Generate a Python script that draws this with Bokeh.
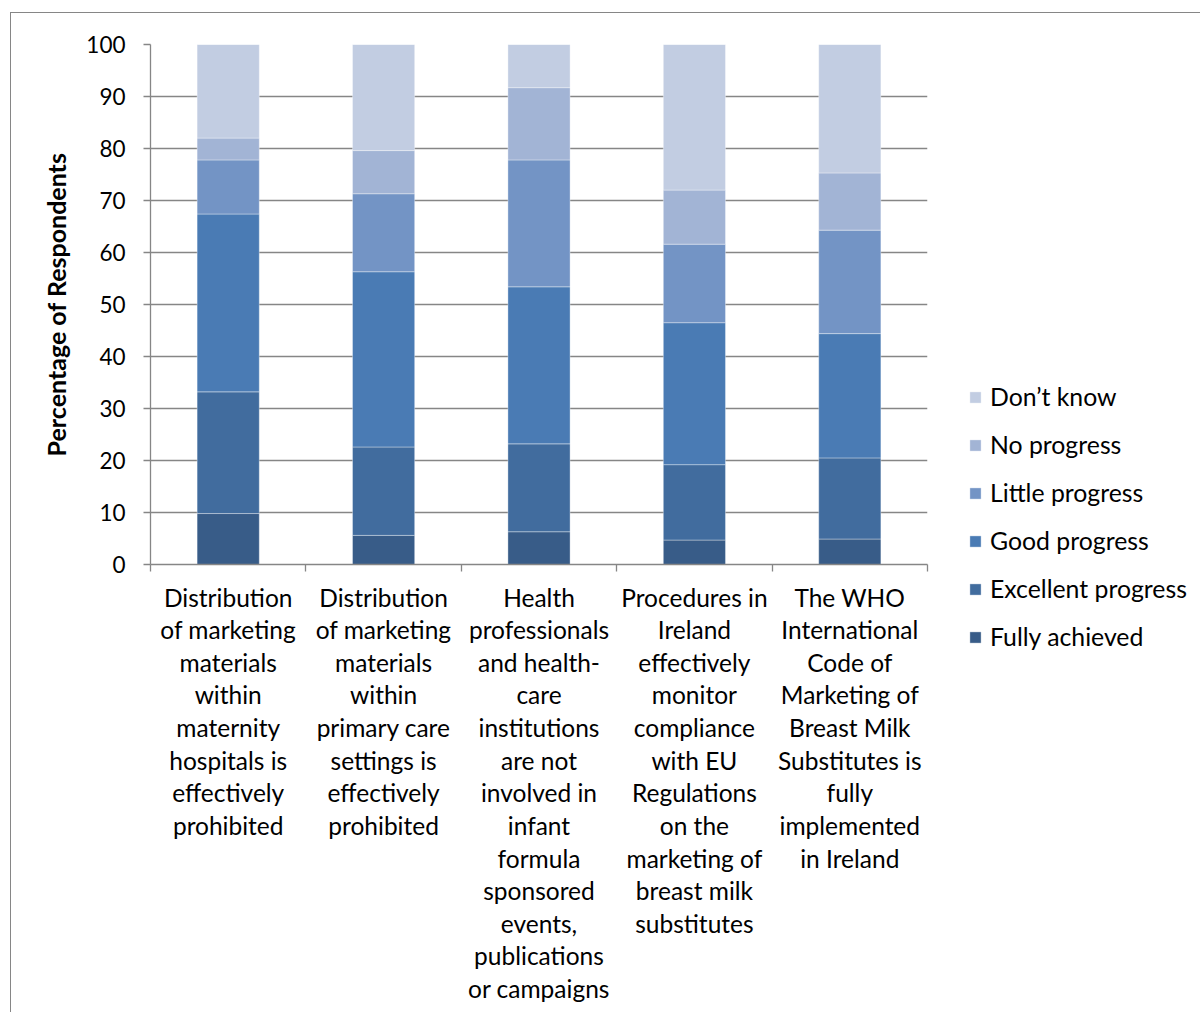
from bokeh.plotting import figure
from bokeh.models import ColumnDataSource, FixedTicker, Legend, LegendItem
from bokeh.embed import file_html
from bokeh.resources import INLINE

# Survey statements (x categories), wrapped as they appear under the bars
statements = [
    "Distribution\nof marketing\nmaterials\nwithin\nmaternity\nhospitals is\neffectively\nprohibited",
    "Distribution\nof marketing\nmaterials\nwithin\nprimary care\nsettings is\neffectively\nprohibited",
    "Health\nprofessionals\nand health-\ncare\ninstitutions\nare not\ninvolved in\ninfant\nformula\nsponsored\nevents,\npublications\nor campaigns",
    "Procedures in\nIreland\neffectively\nmonitor\ncompliance\nwith EU\nRegulations\non the\nmarketing of\nbreast milk\nsubstitutes",
    "The WHO\nInternational\nCode of\nMarketing of\nBreast Milk\nSubstitutes is\nfully\nimplemented\nin Ireland",
]

# Percentage of respondents per rating, bottom of the stack first
fully_achieved = [9.8, 5.6, 6.3, 4.7, 4.9]
excellent_progress = [23.4, 17.0, 16.9, 14.5, 15.6]
good_progress = [34.2, 33.7, 30.2, 27.3, 23.9]
little_progress = [10.4, 15.0, 24.4, 15.1, 19.9]
no_progress = [4.2, 8.3, 13.9, 10.4, 11.0]
dont_know = [18.0, 20.4, 8.3, 28.0, 24.7]

series_names = ["Fully achieved", "Excellent progress", "Good progress",
                "Little progress", "No progress", "Don\u2019t know"]
series_values = [fully_achieved, excellent_progress, good_progress,
                 little_progress, no_progress, dont_know]
colors = ["#385C88", "#416C9E", "#4A7BB4", "#7394C5", "#A2B4D5", "#C2CDE2"]

y_ticks = list(range(0, 101, 10))

FONT = "Lato"
GRAY = "#868686"

keys = [f"s{i}" for i in range(len(series_names))]
data = {"x": list(range(len(statements)))}
for k, vals in zip(keys, series_values):
    data[k] = vals
source = ColumnDataSource(data)

p = figure(
    frame_width=777, frame_height=520,
    x_range=(-0.5, len(statements) - 0.5), y_range=(0, 100),
    output_backend="svg", toolbar_location=None,
    min_border_left=139, min_border_top=31,
    min_border_right=274, min_border_bottom=449,
    margin=(12, 0, 0, 10),
)
p.styles = {"border-left": f"1px solid {GRAY}", "border-top": f"1px solid {GRAY}"}
p.outline_line_color = None
p.background_fill_color = "white"
p.border_fill_color = "white"

renderers = p.vbar_stack(
    keys, x="x", width=0.4, color=colors, source=source,
    line_color="white", line_alpha=0.35, line_width=1,
)

# x axis: labels under bar centres, tick marks on category boundaries
p.xaxis.ticker = FixedTicker(
    ticks=data["x"],
    minor_ticks=[i - 0.5 for i in range(len(statements) + 1)],
)
p.xaxis.major_label_overrides = {i: s for i, s in enumerate(statements)}
p.xaxis.major_tick_out = 0
p.xaxis.major_tick_in = 0
p.xaxis.minor_tick_out = 7
p.xaxis.minor_tick_in = 0
p.xaxis.minor_tick_line_color = GRAY
p.xaxis.minor_tick_line_width = 1.3
p.xaxis.axis_line_color = GRAY
p.xaxis.axis_line_width = 1.3
p.xaxis.major_label_text_font = FONT
p.xaxis.major_label_text_font_size = "24.5px"
p.xaxis.major_label_text_line_height = 1.125
p.xaxis.major_label_text_color = "black"
p.xaxis.major_label_standoff = 11

# y axis
p.yaxis.ticker = FixedTicker(ticks=y_ticks)
p.yaxis.minor_tick_line_color = None
p.yaxis.major_tick_out = 7
p.yaxis.major_tick_in = 0
p.yaxis.major_tick_line_color = GRAY
p.yaxis.major_tick_line_width = 1.3
p.yaxis.axis_line_color = GRAY
p.yaxis.axis_line_width = 1.3
p.yaxis.major_label_text_font = FONT
p.yaxis.major_label_text_font_size = "22.5px"
p.yaxis.major_label_text_color = "black"
p.yaxis.major_label_standoff = 18
p.yaxis.axis_label = "Percentage of Respondents"
p.yaxis.axis_label_text_font = FONT
p.yaxis.axis_label_text_font_style = "bold"
p.yaxis.axis_label_text_font_size = "25px"
p.yaxis.axis_label_text_color = "black"
p.yaxis.axis_label_standoff = 12

p.xgrid.visible = False
p.ygrid.ticker = FixedTicker(ticks=y_ticks)
p.ygrid.grid_line_color = GRAY
p.ygrid.grid_line_width = 1.3

items = [LegendItem(label=name, renderers=[r])
         for name, r in zip(series_names, renderers)][::-1]
legend = Legend(
    items=items, location=(41, -87),
    glyph_width=14, glyph_height=14, label_height=20, spacing=19,
    label_standoff=8, padding=0, margin=0,
    label_text_font=FONT, label_text_font_size="24.8px", label_text_color="black",
    border_line_alpha=0, background_fill_alpha=0,
)
p.add_layout(legend, "right")

open("out.html", "w").write(file_html(p, INLINE))
